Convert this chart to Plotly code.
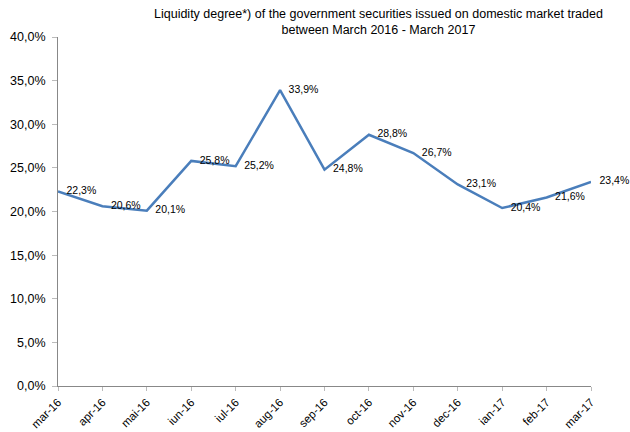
import plotly.graph_objects as go

months = ["mar-16", "apr-16", "mai-16", "iun-16", "iul-16", "aug-16", "sep-16",
          "oct-16", "nov-16", "dec-16", "ian-17", "feb-17", "mar-17"]
liquidity = [22.3, 20.6, 20.1, 25.8, 25.2, 33.9, 24.8, 28.8, 26.7, 23.1, 20.4, 21.6, 23.4]
y_ticks = [0, 5, 10, 15, 20, 25, 30, 35, 40]
y_tick_labels = ["0,0%", "5,0%", "10,0%", "15,0%", "20,0%", "25,0%", "30,0%", "35,0%", "40,0%"]
labels = [f"{v:.1f}%".replace(".", ",") for v in liquidity]

fig = go.Figure()
fig.add_trace(go.Scatter(
    x=list(range(len(months))), y=liquidity, mode="lines+markers+text",
    line=dict(color="#4a7ebb", width=2.5),
    marker=dict(size=12, opacity=0),
    text=labels, textposition="middle right",
    textfont=dict(family="Liberation Sans, Arial", size=10.5, color="#000"),
    cliponaxis=False, hoverinfo="skip", showlegend=False,
))

fig.update_layout(
    width=630, height=432,
    margin=dict(l=58, r=39, t=37, b=46, autoexpand=False),
    paper_bgcolor="white", plot_bgcolor="white",
    font=dict(family="Liberation Sans, Arial", size=11, color="#000"),
    annotations=[dict(
        text="Liquidity degree*) of the government securities issued on domestic market traded<br>between March 2016 - March 2017",
        xref="paper", yref="paper", x=(378 - 58) / (630 - 58 - 39), y=1.0,
        xanchor="center", yanchor="bottom", yshift=-2,
        showarrow=False, font=dict(size=12.5), align="center",
    )],
)
fig.update_xaxes(
    range=[0, len(months) - 1], tickmode="array",
    tickvals=list(range(len(months))), ticktext=months, tickangle=-45,
    showline=True, linecolor="#888", linewidth=1, ticks="outside", ticklen=4, tickcolor="#bbb",
    showgrid=False, zeroline=False, tickfont=dict(size=11.5), automargin=False,
)
fig.update_yaxes(
    range=[0, 40], tickmode="array", tickvals=y_ticks, ticktext=y_tick_labels,
    showline=True, linecolor="#888", linewidth=1, ticks="outside", ticklen=5, tickcolor="#bbb",
    ticklabelstandoff=4,
    showgrid=False, zeroline=False, tickfont=dict(size=12.5), automargin=False,
)
fig.write_html("out.html", config={"displayModeBar": False},
               post_script="document.body.style.margin='0';document.body.style.overflow='hidden';")
